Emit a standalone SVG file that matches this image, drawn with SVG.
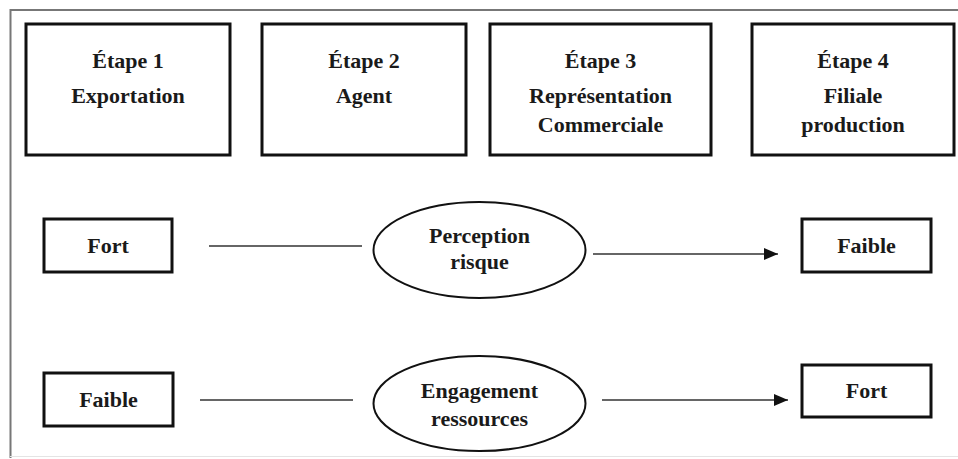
<svg xmlns="http://www.w3.org/2000/svg" width="958" height="459" viewBox="0 0 958 459">
<style>
.box{fill:#fff;stroke:#111;stroke-width:3}
.ell{fill:#fff;stroke:#111;stroke-width:2}
.t{font-family:"Liberation Serif","Times New Roman",serif;font-weight:bold;font-size:22px;fill:#1a1a1a;text-anchor:middle}
.ln{stroke:#333;stroke-width:1.6;fill:none}
</style>
<defs>
<marker id="ah" markerWidth="14" markerHeight="12" refX="14" refY="6" orient="auto" markerUnits="userSpaceOnUse">
<path d="M0,0 L14,6 L0,12 Z" fill="#111"/>
</marker>
</defs>
<rect width="958" height="459" fill="#fff"/>
<path d="M10.5,458 L10.5,10 L958,10" fill="none" stroke="#777" stroke-width="2"/>
<path d="M10,456.5 L958,456.5" fill="none" stroke="#e4e4e4" stroke-width="1"/>
<g id="etape1"><rect class="box" x="26" y="24" width="204" height="131"/><text class="t" x="128" y="68">Étape 1</text><text class="t" x="128" y="103">Exportation</text></g>
<g id="etape2"><rect class="box" x="262" y="24" width="204" height="131"/><text class="t" x="364" y="68">Étape 2</text><text class="t" x="364" y="103">Agent</text></g>
<g id="etape3"><rect class="box" x="490" y="24" width="221" height="131"/><text class="t" x="600.5" y="68">Étape 3</text><text class="t" x="600.5" y="103">Représentation</text><text class="t" x="600.5" y="132">Commerciale</text></g>
<g id="etape4"><rect class="box" x="752" y="24" width="202" height="131"/><text class="t" x="853" y="68">Étape 4</text><text class="t" x="853" y="103">Filiale</text><text class="t" x="853" y="132">production</text></g>
<g id="fort1"><rect class="box" x="44" y="219" width="128" height="53"/><text class="t" x="108" y="253">Fort</text></g>
<g id="perception"><ellipse class="ell" cx="479.5" cy="250" rx="106" ry="48"/><text class="t" x="479.5" y="243">Perception</text><text class="t" x="479.5" y="269">risque</text></g>
<g id="faible1"><rect class="box" x="802" y="219" width="129" height="53"/><text class="t" x="866.5" y="253">Faible</text></g>
<g id="faible2"><rect class="box" x="44" y="373" width="129" height="53"/><text class="t" x="108.5" y="407">Faible</text></g>
<g id="engagement"><ellipse class="ell" cx="479.5" cy="403.5" rx="106" ry="47.5"/><text class="t" x="479.5" y="398">Engagement</text><text class="t" x="479.5" y="426">ressources</text></g>
<g id="fort2"><rect class="box" x="802" y="365" width="129" height="52"/><text class="t" x="866.5" y="398">Fort</text></g>
<g id="connectors">
<line class="ln" x1="209" y1="246" x2="362" y2="246"/>
<line class="ln" x1="593" y1="254" x2="778" y2="254" marker-end="url(#ah)"/>
<line class="ln" x1="200" y1="400" x2="353" y2="400"/>
<line class="ln" x1="602" y1="400" x2="788" y2="400" marker-end="url(#ah)"/>
</g>
</svg>
